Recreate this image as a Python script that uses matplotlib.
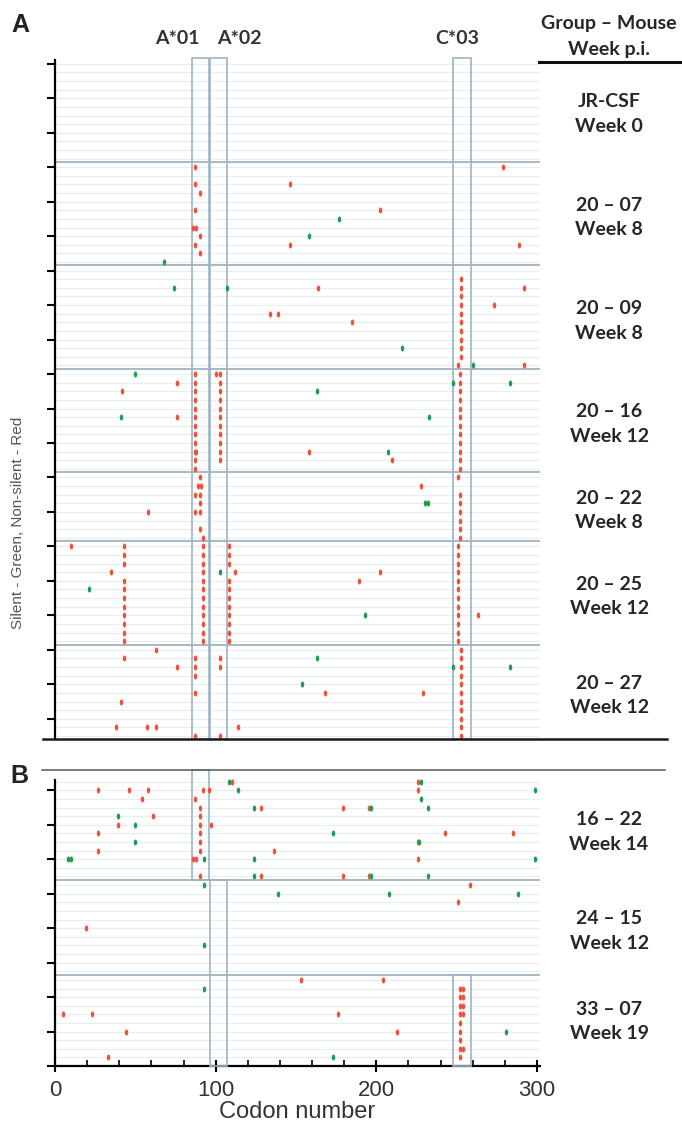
import numpy as np
import matplotlib
matplotlib.use('Agg')
import matplotlib.pyplot as plt
from matplotlib.lines import Line2D
from matplotlib.patches import Rectangle

W, H = 682, 1127
ROW = 8.618          # pixel height of one sequence row
X0, PX_PER_CODON = 55, 1.6067

# ---- panel A: groups (rows per group) ----
groups_a = ['JR-CSF', '20 – 07', '20 – 09', '20 – 16', '20 – 22', '20 – 25', '20 – 27']
weeks_a = ['Week 0', 'Week 8', 'Week 8', 'Week 12', 'Week 8', 'Week 12', 'Week 12']
rows_a = [12, 12, 12, 12, 8, 12, 11]

# ---- panel B ----
groups_b = ['16 – 22', '24 – 15', '33 – 07']
weeks_b = ['Week 14', 'Week 12', 'Week 19']
rows_b = [12, 11, 10]

# HLA epitope windows (codon start, end)
hla_names = ['A*01', 'A*02', 'C*03']
hla_start = [85.4, 96.3, 247.5]
hla_end = [95.6, 106.8, 258.7]

# ---- mutations, panel A (codon, row) ----
red_a_codon = [
    # 20-07
    87, 279, 146, 87, 90, 87, 202, 86, 88, 90, 87, 146, 289, 90,
    # 20-09
    253, 253, 253, 253, 253, 253, 253, 253, 253, 253, 251,
    164, 292, 273, 134, 139, 185, 292,
    # 20-16
    87, 87, 87, 87, 87, 87, 87, 87, 87, 87, 87, 87,
    103, 103, 103, 103, 103, 103, 103, 103, 103, 103, 103,
    100, 76, 42, 76, 88, 158, 210,
    252, 252, 252, 252, 252, 252, 252, 252, 252, 252, 252, 252,
    # 20-22
    90, 89, 91, 251, 228, 87, 90, 90, 58, 87, 90, 90, 92,
    252, 252, 252, 252, 252, 252,
    # 20-25
    10,
    43, 43, 43, 43, 43, 43, 43, 43, 43, 43, 43, 35,
    92, 92, 92, 92, 92, 92, 92, 92, 92, 92, 92, 92,
    108, 108, 108, 108, 108, 108, 108, 108, 108, 108, 108,
    112, 202, 189, 263,
    251, 251, 251, 251, 251, 251, 251, 251, 251, 251, 251, 251,
    # 20-27
    63, 43, 87, 103, 76, 87, 103, 87, 87, 168, 229, 41, 38, 57, 63, 114, 87, 103,
    253, 253, 253, 253, 253, 253, 253, 253, 253, 253, 253,
]
red_a_row = [
    12, 12, 14, 14, 15, 17, 17, 19, 19, 20, 21, 21, 21, 22,
    25, 26, 27, 28, 29, 30, 31, 32, 33, 34, 35,
    26, 26, 28, 29, 29, 30, 35,
    36, 37, 38, 39, 40, 41, 42, 43, 44, 45, 46, 47,
    36, 37, 38, 39, 40, 41, 42, 43, 44, 45, 46,
    36, 37, 38, 41, 45, 45, 46,
    36, 37, 38, 39, 40, 41, 42, 43, 44, 45, 46, 47,
    48, 49, 49, 48, 49, 50, 50, 51, 52, 52, 52, 54, 55,
    50, 51, 52, 53, 54, 55,
    56,
    56, 57, 58, 60, 61, 62, 63, 64, 65, 66, 67, 59,
    56, 57, 58, 59, 60, 61, 62, 63, 64, 65, 66, 67,
    56, 57, 58, 60, 61, 62, 63, 64, 65, 66, 67,
    59, 59, 60, 64,
    56, 57, 58, 59, 60, 61, 62, 63, 64, 65, 66, 67,
    68, 69, 69, 69, 70, 70, 70, 71, 73, 73, 73, 74, 77, 77, 77, 77, 78, 78,
    68, 69, 70, 71, 72, 73, 74, 75, 76, 77, 78,
]
green_a_codon = [177, 158, 68,
                 74, 107, 216, 260,
                 50, 163, 41, 248, 283, 233, 207,
                 230, 232,
                 103, 21, 193,
                 163, 154, 248, 283]
green_a_row = [18, 20, 23,
               26, 26, 33, 35,
               36, 38, 41, 37, 37, 41, 45,
               51, 51,
               59, 61, 64,
               69, 72, 70, 70]

# ---- mutations, panel B (codon, row) ----
red_b_codon = [
    # 16-22
    110, 27, 46, 58, 92, 96, 54, 87, 90, 128, 61, 90, 39, 90, 97, 27, 90, 90,
    27, 90, 136, 86, 88, 90, 128,
    226, 226, 179, 195.6, 243, 285, 225.8, 226, 179, 195.6,
    # 24-15
    258, 251, 19,
    # 33-07
    153, 204, 5, 23, 176, 44, 213, 33,
    252, 252, 252, 252, 252, 252, 252, 252, 252,
    254, 254, 254, 254, 254,
]
red_b_row = [
    0, 1, 1, 1, 1, 1, 2, 2, 3, 3, 4, 4, 5, 5, 5, 6, 6, 7,
    8, 8, 8, 9, 9, 11, 11,
    0, 1, 3, 3, 6, 6, 7, 9, 11, 11,
    12, 14, 17,
    23, 23, 27, 27, 27, 29, 29, 32,
    24, 25, 26, 27, 28, 29, 30, 31, 32,
    24, 25, 26, 27, 31,
]
green_b_codon = [108, 114, 124, 39, 50, 173, 50, 8, 10, 93, 124, 124,
                 228, 299, 228, 196.8, 232, 226.6, 299, 196.8, 232,
                 93, 139, 208, 288, 93,
                 93, 281, 173]
green_b_row = [0, 1, 3, 4, 5, 6, 7, 9, 9, 9, 9, 11,
               0, 1, 2, 3, 3, 7, 9, 11, 11,
               12, 13, 13, 13, 19,
               24, 29, 32]

RED = '#f1513a'
GREEN = '#1f9c50'
ROWLINE = '#e8edf2'
SEP = '#9fb3c3'
BOX = '#9db4c6'
LABEL_FONT = ['Lato', 'DejaVu Sans']
AXIS_FONT = ['Liberation Sans', 'DejaVu Sans']
DOT = 19

t = np.linspace(0, 2 * np.pi, 25)
ellipse = np.column_stack([0.58 * np.cos(t), np.sin(t)])


def rect_px(x0, y0, x1, y1):
    return [x0 / W, 1 - y1 / H, (x1 - x0) / W, (y1 - y0) / H]


def row_y(first_row_px, r):
    return first_row_px + r * ROW


def group_labels(first_px, groups, weeks, starts, rows):
    for g, wk, s, n in zip(groups, weeks, starts, rows):
        mid = row_y(first_px, s + (n - 1) / 2)
        fig.text(609 / W, 1 - (mid - 4) / H, g, ha='center', va='baseline',
                 fontsize=14, fontweight='bold', color='#262626', family=LABEL_FONT)
        fig.text(609 / W, 1 - (mid + 20.5) / H, wk, ha='center', va='baseline',
                 fontsize=14, fontweight='bold', color='#262626', family=LABEL_FONT)


fig = plt.figure(figsize=(W / 100, H / 100), dpi=100)
fig.patch.set_facecolor('white')
xmax = 302
x_right = X0 + xmax * PX_PER_CODON

# ---------------- panel A ----------------
a_first = 63.8
a_top, a_bot = -0.7, 78.4
axA = fig.add_axes(rect_px(X0, row_y(a_first, a_top), x_right, row_y(a_first, a_bot)))
axA.set_xlim(0, xmax)
axA.set_ylim(a_bot, a_top)
n_a = sum(rows_a)
axA.hlines(np.arange(n_a), 0, xmax, color=ROWLINE, lw=0.8, zorder=1)
starts_a = np.cumsum([0] + rows_a[:-1])
axA.hlines(starts_a[1:] - 0.6, 0, xmax, color=SEP, lw=1.3, zorder=2)
for s, e in zip(hla_start, hla_end):
    axA.add_patch(Rectangle((s, -0.65), e - s, a_bot + 0.65, fill=False,
                            ec=BOX, lw=1.2, zorder=3, clip_on=False))
axA.scatter(red_a_codon, red_a_row, s=DOT, marker=ellipse, color=RED, lw=0, zorder=4)
axA.scatter(green_a_codon, green_a_row, s=DOT, marker=ellipse, color=GREEN, lw=0, zorder=4)
for sp in ['top', 'right', 'bottom']:
    axA.spines[sp].set_visible(False)
axA.spines['left'].set_linewidth(1.6)
axA.spines['left'].set_bounds(-0.45, a_bot)
axA.set_yticks(np.arange(0, n_a, 4))
axA.set_yticklabels([])
axA.set_xticks([])
axA.tick_params(axis='y', length=6, width=1.5, direction='out')
group_labels(a_first, groups_a, weeks_a, starts_a, rows_a)

# ---------------- panel B ----------------
b_first = 781.7
b_top, b_bot = -1.4, 33
axB = fig.add_axes(rect_px(X0, row_y(b_first, b_top), x_right, row_y(b_first, b_bot)))
axB.set_xlim(0, xmax)
axB.set_ylim(b_bot, b_top)
n_b = sum(rows_b)
axB.hlines(np.arange(n_b), 0, xmax, color=ROWLINE, lw=0.8, zorder=1)
starts_b = np.cumsum([0] + rows_b[:-1])
axB.hlines(starts_b[1:] - 0.55, 0, xmax, color=SEP, lw=1.3, zorder=2)
# epitope boxes only where the group carries them
b_boxes = [(0, b_top + 0.05, starts_b[1] - 0.55),
           (1, starts_b[1] - 0.55, b_bot),
           (2, starts_b[2] - 0.55, b_bot)]
for k, y0, y1 in b_boxes:
    axB.add_patch(Rectangle((hla_start[k], y0), hla_end[k] - hla_start[k], y1 - y0,
                            fill=False, ec=BOX, lw=1.2, zorder=3, clip_on=False))
axB.scatter(red_b_codon, red_b_row, s=DOT, marker=ellipse, color=RED, lw=0, zorder=4)
axB.scatter(green_b_codon, green_b_row, s=DOT, marker=ellipse, color=GREEN, lw=0, zorder=4)
for sp in ['top', 'right']:
    axB.spines[sp].set_visible(False)
axB.spines['left'].set_linewidth(1.6)
axB.spines['left'].set_bounds(-0.2, b_bot)
axB.spines['bottom'].set_linewidth(1.6)
axB.set_yticks(np.arange(1, b_bot + 1, 4))
axB.set_yticklabels([])
axB.tick_params(axis='y', length=6, width=1.5, direction='out')
axB.set_xticks([0, 100, 200, 300])
axB.set_xticks(np.arange(0, 301, 20), minor=True)
axB.tick_params(axis='x', which='major', length=8, width=1.5, direction='inout',
                labelsize=16, labelcolor='#333333', pad=6)
axB.tick_params(axis='x', which='minor', length=4, width=1.2, direction='in')
for lab in axB.get_xticklabels():
    lab.set_family(AXIS_FONT)
axB.set_xlabel('Codon number', fontsize=17, color='#333333', family=AXIS_FONT, labelpad=0)
group_labels(b_first, groups_b, weeks_b, starts_b, rows_b)

# ---------------- decorations ----------------
fig.add_artist(Line2D([43 / W, 667 / W], [1 - 739.4 / H] * 2, lw=1.8, color='#1a1a1a'))
fig.add_artist(Line2D([42 / W, 665 / W], [1 - 770 / H] * 2, lw=1.1, color='#555555'))
fig.add_artist(Line2D([539 / W, 682 / W], [1 - 62 / H] * 2, lw=2.2, color='#111111'))

fig.text(609 / W, 1 - 29.5 / H, 'Group – Mouse', ha='center', va='baseline',
         fontsize=14, fontweight='bold', color='#262626', family=LABEL_FONT)
fig.text(609 / W, 1 - 55 / H, 'Week p.i.', ha='center', va='baseline',
         fontsize=14, fontweight='bold', color='#262626', family=LABEL_FONT)

for name, x in zip(hla_names, [177, 239, 457]):
    fig.text(x / W, 1 - 44.5 / H, name, ha='center', va='baseline',
             fontsize=14, fontweight='bold', color='#333333', family=LABEL_FONT)

fig.text(20 / W, 1 - 32 / H, 'A', ha='center', va='baseline', fontsize=18,
         fontweight='bold', color='#222222', family=AXIS_FONT)
fig.text(19.5 / W, 1 - 783 / H, 'B', ha='center', va='baseline', fontsize=18,
         fontweight='bold', color='#222222', family=AXIS_FONT)

fig.text(18 / W, 1 - 523 / H, 'Silent - Green, Non-silent - Red', rotation=90,
         ha='center', va='center', fontsize=11, color='#555555', family=AXIS_FONT)

fig.savefig('out.png', dpi=100)
